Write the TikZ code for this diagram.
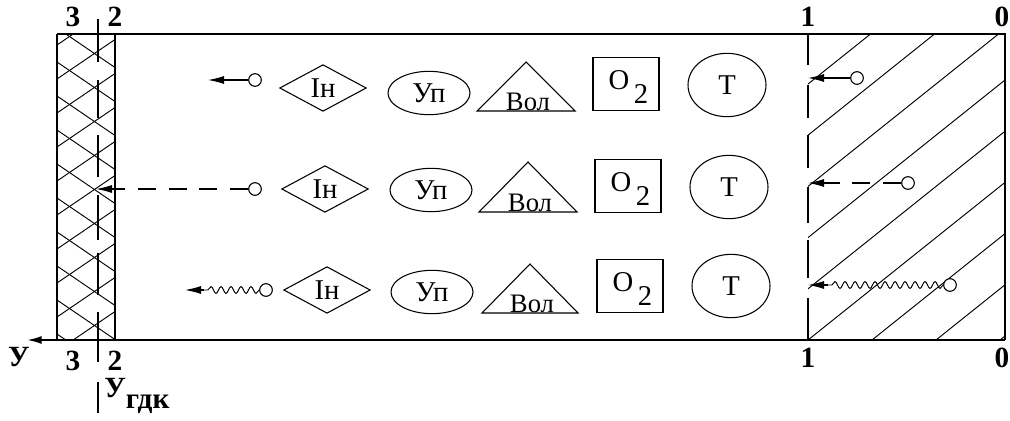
\documentclass[tikz,border=0pt]{standalone}
\usepackage{fontspec}
\setmainfont{Liberation Serif}
\usetikzlibrary{shapes.geometric,arrows.meta,decorations.pathmorphing}

\begin{document}
\begin{tikzpicture}[x=0.75pt,y=-0.75pt,
  wall/.style={line width=1.5pt},
  hatchline/.style={line width=0.7pt},
  lbl/.style={font=\bfseries\fontsize{22}{22}\selectfont, inner sep=0pt},
  sym/.style={draw, line width=0.8pt, inner sep=0pt, font=\fontsize{21.5}{21.5}\selectfont},
  symtext/.style={inner sep=0pt, font=\fontsize{21.5}{21.5}\selectfont},
  voltext/.style={inner sep=0pt, font=\fontsize{20}{20}\selectfont},
  romb/.style={sym, diamond, minimum width=65pt, minimum height=35pt},
  oval/.style={sym, ellipse, minimum width=61.5pt, minimum height=32.5pt},
  sq/.style={sym, rectangle, minimum width=49.5pt, minimum height=40pt},
  tcirc/.style={sym, ellipse, minimum width=58.5pt, minimum height=47.5pt},
  src/.style={draw, circle, line width=0.8pt, minimum size=9.5pt, inner sep=0pt, fill=white},
  flow/.style={line width=0.8pt, -{Latex[length=12pt,width=6pt]}},
  dashflow/.style={flow, dash pattern=on 13.5pt off 9.5pt},
  wave/.style={line width=0.7pt, decorate, decoration={snake, segment length=7.5pt, amplitude=2.6pt}}
]
\useasboundingbox (0,0) rectangle (1010,421);

% cross-hatched wall between planes 3 and 2
\begin{scope}
  \clip (57,34) rectangle (115,340);
  \foreach \y in {-40,-6,...,370} {
    \draw[hatchline] (57,\y) -- (115,\y+39.5);
    \draw[hatchline] (57,\y+17) -- (115,\y-22.5);
  }
\end{scope}

% hatched zone between planes 1 and 0
\begin{scope}
  \clip (808,34) rectangle (1005,340);
  \foreach \k in {-6,...,3} {
    \draw[hatchline] (808+64*\k,340) -- (808+64*\k+382.5,34);
  }
\end{scope}

% frame
\coordinate (tl) at (57,34);
\coordinate (tr) at (1005,34);
\coordinate (br) at (1005,340);
\coordinate (bl) at (57,340);
\coordinate (w2t) at (115,34);
\coordinate (w2b) at (115,340);
\coordinate (yax) at (27,340);
\draw[wall] (tl) -- (tr) -- (br);
\draw[wall] (tl) -- (bl);
\draw[wall] (w2t) -- (w2b);
\draw[wall, -{Latex[length=11pt,width=6pt]}] (br) -- (yax);

% plane 1 (dashed boundary)
\foreach \a/\b in {34/65, 85/118, 135/168, 187/223, 240/278, 298/340}
  \draw[line width=1.4pt] (808,\a) -- (808,\b);

% plane 2 (dashed boundary)
\foreach \a/\b in {19/62, 80/118, 135/177, 195/240, 253/295, 312/362}
  \draw[line width=1.1pt] (98,\a) -- (98,\b);
\draw[line width=1.1pt] (98,382) -- (98,413);

% plane labels
\node[lbl] (t3) at (73,17) {3};
\node[lbl] (t2) at (115,17) {2};
\node[lbl] (t1) at (808,17) {1};
\node[lbl, anchor=east] (t0) at (1009.5,17) {0};
\node[lbl] (b3) at (73,361) {3};
\node[lbl] (b2) at (115,361) {2};
\node[lbl] (b1) at (808,358) {1};
\node[lbl, anchor=east] (b0) at (1009.5,358) {0};
\node[lbl] (yl) at (19,357) {У};
\node[lbl, anchor=west] (ygdk) at (104,396) {У\raisebox{-8pt}{гдк}};

% ---- row 1 ----
\node[romb] (in1) at (323,88) {Ін};
\node[oval] (up1) at (429,93) {Уп};
\draw[line width=0.8pt] (526,62) -- (575,111) -- (477,111) -- cycle;
\node[voltext] (vol1) at (528,102) {Вол};
\node[sq] (ox1) at (626,84) {};
\node[symtext] (oxt1) at (619,80) {O};
\node[symtext] (oxs1) at (641,94) {2};
\node[tcirc] (tt1) at (727,85) {Т};

% ---- row 2 ----
\node[romb] (in2) at (325,189) {Ін};
\node[oval] (up2) at (431,190) {Уп};
\draw[line width=0.8pt] (528,162) -- (577,212) -- (479,212) -- cycle;
\node[voltext] (vol2) at (530,203) {Вол};
\node[sq] (ox2) at (628,186) {};
\node[symtext] (oxt2) at (621,182) {O};
\node[symtext] (oxs2) at (643,196) {2};
\node[tcirc] (tt2) at (729,187) {Т};

% ---- row 3 ----
\node[romb] (in3) at (327,290) {Ін};
\node[oval] (up3) at (432,292) {Уп};
\draw[line width=0.8pt] (530,264) -- (578,313) -- (482,313) -- cycle;
\node[voltext] (vol3) at (532,304) {Вол};
\node[sq] (ox3) at (630,286) {};
\node[symtext] (oxt3) at (623,282) {O};
\node[symtext] (oxs3) at (645,296) {2};
\node[tcirc] (tt3) at (731,286) {Т};

% ---- fluxes towards wall 2 ----
\node[src] (s1l) at (255,80) {};
\coordinate (e1l) at (208,80);
\draw[flow] (s1l) -- (e1l);

\node[src] (s2l) at (255,189) {};
\coordinate (e2l) at (96,189);
\draw[dashflow] (s2l) -- (e2l);

\node[src] (s3l) at (266,290) {};
\coordinate (m3l) at (204,290);
\coordinate (e3l) at (185,290);
\draw[wave] (s3l.west) -- (m3l);
\draw[flow] (m3l) -- (e3l);

% ---- fluxes towards plane 1 ----
\node[src] (s1r) at (857,78) {};
\coordinate (e1r) at (808,78);
\draw[flow] (s1r) -- (e1r);

\node[src] (s2r) at (908,183) {};
\coordinate (e2r) at (808,183);
\draw[dashflow] (s2r) -- (e2r);

\node[src] (s3r) at (950,285) {};
\coordinate (m3r) at (828,285);
\coordinate (e3r) at (808,285);
\draw[wave] (s3r.west) -- (m3r);
\draw[flow] (m3r) -- (e3r);
\end{tikzpicture}
\end{document}
